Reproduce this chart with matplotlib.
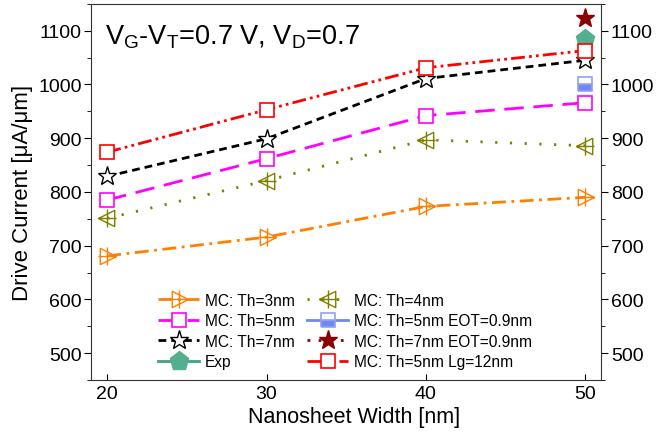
import numpy as np
import matplotlib
matplotlib.use('Agg')
import matplotlib.pyplot as plt
from matplotlib.path import Path

plt.rcParams['font.family'] = ['Liberation Sans', 'DejaVu Sans']
plt.rcParams['mathtext.default'] = 'regular'

# nanosheet widths [nm]
width = [20, 30, 40, 50]
width_single = [50]

# drive current [uA/um]
th3 = [681, 716, 773, 790]
th4 = [751, 821, 897, 886]
th5 = [785, 862, 942, 966]
th7 = [829, 899, 1011, 1045]
th5_lg12 = [874, 953, 1031, 1063]
th5_eot = [1000]
th7_eot = [1123]
exp_val = [1085]

# triangle markers with a cross through them
def tri_cross(direction):
    if direction == 'left':
        tri = [(-1, 0), (0.8, 0.9), (0.8, -0.9), (-1, 0)]
    else:
        tri = [(1, 0), (-0.8, 0.9), (-0.8, -0.9), (1, 0)]
    verts = tri + [(-1, 0), (1, 0), (0, -1), (0, 1)]
    codes = [Path.MOVETO, Path.LINETO, Path.LINETO, Path.CLOSEPOLY,
             Path.MOVETO, Path.LINETO, Path.MOVETO, Path.LINETO]
    return Path(verts, codes)

fig = plt.figure(figsize=(6.57, 4.39), dpi=100)
ax = fig.add_axes([0.139, 0.132, 0.776, 0.857])

lw = 2
h3, = ax.plot(width, th3, color='#ff8000', lw=lw, dashes=(5, 2, 1, 2),
              marker=tri_cross('right'), ms=13, mfc='none', mew=1.0,
              label='MC: Th=3nm')
h5, = ax.plot(width, th5, color='#ff00ff', lw=lw, dashes=(7, 3.5),
              marker='s', ms=10, mfc='white', mew=1.2, label='MC: Th=5nm')
h7, = ax.plot(width, th7, color='black', lw=lw, dashes=(2.8, 1.8),
              marker='*', ms=14, mfc='white', mew=1.0, label='MC: Th=7nm')
hexp, = ax.plot(width_single, exp_val, color='#3fa37c', lw=lw, ls='-',
                marker='p', ms=14, mfc='#52b08f', mec='#52b08f', label='Exp')
h4, = ax.plot(width, th4, color='#808000', lw=lw, dashes=(0.8, 4.5),
              marker=tri_cross('left'), ms=13, mfc='none', mew=1.0,
              label='MC: Th=4nm')
h5e, = ax.plot(width_single, th5_eot, color='#7088f0', lw=lw, ls='-',
               marker='s', ms=10, fillstyle='bottom', mfc='#7088f0',
               mfcalt='white', mec='#90a2f5', mew=1.2,
               label='MC: Th=5nm EOT=0.9nm')
h7e, = ax.plot(width_single, th7_eot, color='#8b0000', lw=lw, dashes=(1, 3),
               marker='*', ms=14, mfc='#8b0000', mec='#8b0000',
               label='MC: Th=7nm EOT=0.9nm')
hlg, = ax.plot(width, th5_lg12, color='#ff0000', lw=lw,
               dashes=(5, 1.5, 1, 1.5, 1, 1.5),
               marker='s', ms=10, mfc='white', mew=1.2,
               label='MC: Th=5nm Lg=12nm')

ax.set_xlim(19, 51)
ax.set_ylim(450, 1150)
ax.set_xticks(width)
ax.set_yticks(np.arange(500, 1101, 100))
ax.set_yticks(np.arange(450, 1151, 50), minor=True)
ax.tick_params(axis='x', direction='in', top=False, labelsize=14, length=4)
ax.tick_params(axis='y', which='both', direction='out', left=True, right=True,
               labelright=True, labelsize=14)
ax.tick_params(axis='y', which='major', length=5, pad=2)
ax.tick_params(axis='y', which='minor', length=3)
for s in ax.spines.values():
    s.set_color('#333333')

ax.set_xlabel('Nanosheet Width [nm]', fontsize=15.5, labelpad=3, x=0.515)
ax.set_ylabel('Drive Current [μA/μm]', fontsize=16, labelpad=4)

ax.text(0.027, 0.915, 'V$_G$-V$_T$=0.7 V, V$_D$=0.7', transform=ax.transAxes,
        fontsize=19.5, va='center', ha='left')

handles = [h3, h5, h7, hexp, h4, h5e, h7e, hlg]
ax.legend(handles=handles, ncol=2, frameon=False, fontsize=11.2,
          loc='lower left', bbox_to_anchor=(0.11, 0.0), borderaxespad=0.3,
          handlelength=2.6, handletextpad=0.4, columnspacing=0.8,
          labelspacing=0.35)

fig.savefig('out.png', dpi=100)
